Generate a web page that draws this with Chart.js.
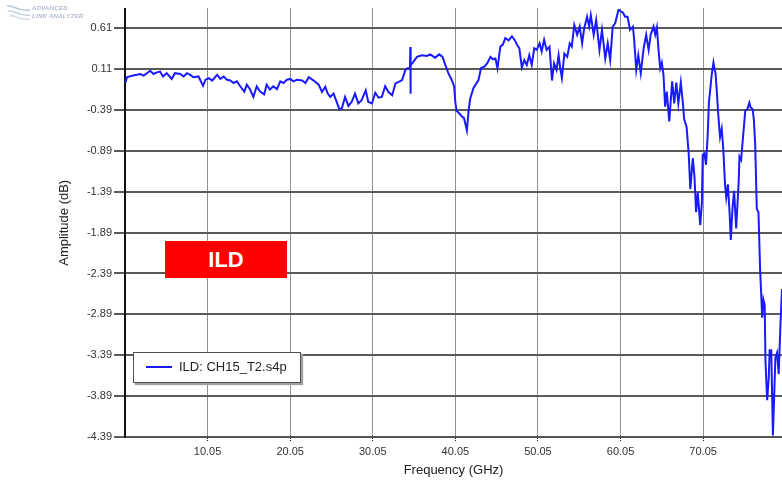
<!DOCTYPE html>
<html>
<head>
<meta charset="utf-8">
<script src="https://cdn.jsdelivr.net/npm/chart.js@4.4.1/dist/chart.umd.min.js"></script>
<style>
body { margin:0; background:#fff; }
#wrap { position:relative; width:782px; height:483px; overflow:hidden; font-family:'Liberation Sans', Arial, sans-serif; }
#wrap canvas { position:absolute; left:0; top:0; }
.logo { position:absolute; left:6px; top:3px; }
.logo span { position:absolute; left:26px; font:italic bold 6px 'Liberation Sans', Arial, sans-serif; color:#aebacb; white-space:nowrap; letter-spacing:0.3px; }
.ild { position:absolute; left:165px; top:241px; width:122px; height:37px; background:#ff0000; color:#fff; font:bold 22px 'Liberation Sans', Arial, sans-serif; display:flex; align-items:center; justify-content:center; }
.legend { position:absolute; left:133px; top:352px; width:166px; height:29px; border:1.5px solid #505050; background:#fff; box-shadow:2px 2px 1px #a0a0a0; }
.legend i { position:absolute; left:12px; top:13px; width:26px; height:2px; background:#1a1aff; }
.legend b { position:absolute; left:45px; top:6px; font:normal 13px 'Liberation Sans', Arial, sans-serif; color:#222; white-space:nowrap; }
</style>
</head>
<body>
<div id="wrap">
  <canvas id="c" width="782" height="483"></canvas>
  <div class="logo">
    <svg width="26" height="18" viewBox="0 0 26 18">
      <path d="M1 3 C7 1 11 9 24 7" stroke="#b7c8da" stroke-width="1.6" fill="none"/>
      <path d="M2 8 C8 6 12 14 24 12" stroke="#c3d2e2" stroke-width="1.6" fill="none"/>
      <path d="M4 13 C9 11 13 18 24 16" stroke="#cfdbe8" stroke-width="1.4" fill="none"/>
    </svg>
    <span style="top:2px">ADVANCED</span>
    <span style="top:10px">LINK ANALYZER</span>
  </div>
  <div class="ild">ILD</div>
  <div class="legend"><i></i><b>ILD: CH15_T2.s4p</b></div>
</div>
<script>
const seriesName = 'ILD: CH15_T2.s4p';

const freq = [
	0.08, 0.29, 0.9, 1.5, 1.9, 2.3, 2.7, 3.1, 3.5, 3.9,
	4.3, 4.65, 5.1, 5.7, 6.1, 6.75, 7.15, 7.55, 7.95, 8.35,
	8.95, 9.5, 9.8, 10.2, 10.6, 11.2, 11.6, 12.0, 12.4, 12.8,
	13.2, 13.6, 14.0, 14.5, 14.8, 15.2, 15.6, 16.0, 16.4, 16.9,
	17.2, 17.6, 18.0, 18.45, 18.85, 19.25, 19.65, 20.05, 20.45, 20.85,
	21.5, 21.9, 22.3, 22.9, 23.5, 23.9, 24.3, 24.6, 24.9, 25.3,
	25.6, 26.0, 26.3, 26.7, 27.1, 27.5, 27.9, 28.3, 28.7, 29.2,
	29.5, 29.95, 30.35, 30.75, 31.15, 31.55, 31.95, 32.4, 32.8, 33.2,
	33.6, 34.0, 34.25, 34.55, 34.6, 34.62, 34.65, 34.9, 35.4, 36.0,
	36.6, 37.0, 37.6, 38.1, 38.5, 38.8, 39.2, 39.6, 39.9, 40.05,
	40.2, 40.5, 40.85, 41.1, 41.45, 41.65, 41.85, 42.25, 42.6, 42.85,
	43.15, 43.55, 43.9, 44.3, 44.6, 44.9, 45.15, 45.5, 45.8, 46.1,
	46.5, 46.9, 47.2, 47.5, 47.8, 48.1, 48.4, 48.7, 49.0, 49.3,
	49.6, 49.9, 50.25, 50.5, 50.8, 51.1, 51.45, 51.75, 52.0, 52.3,
	52.55, 52.75, 52.95, 53.25, 53.6, 53.9, 54.15, 54.45, 54.8, 55.1,
	55.4, 55.65, 56.0, 56.25, 56.45, 56.8, 57.1, 57.5, 57.8, 58.2,
	58.5, 58.8, 59.1, 59.4, 59.8, 60.1, 60.35, 60.6, 60.9, 61.2,
	61.55, 61.7, 61.95, 62.2, 62.5, 62.85, 63.15, 63.45, 63.7, 64.05,
	64.25, 64.45, 64.65, 64.85, 65.05, 65.25, 65.45, 65.65, 65.95, 66.3,
	66.55, 66.8, 67.05, 67.35, 67.6, 67.75, 67.9, 68.05, 68.3, 68.5,
	68.8, 69.0, 69.2, 69.4, 69.7, 69.9, 70.0, 70.2, 70.4, 70.6,
	70.75, 70.85, 71.1, 71.3, 71.45, 71.55, 71.7, 71.85, 72.0, 72.1,
	72.3, 72.5, 72.7, 72.85, 73.05, 73.25, 73.4, 73.6, 73.8, 74.05,
	74.35, 74.45, 74.65, 74.95, 75.15, 75.4, 75.65, 75.8, 76.05, 76.2,
	76.35, 76.55, 76.75, 76.95, 77.1, 77.2, 77.35, 77.5, 77.6, 77.8,
	78.0, 78.1, 78.3, 78.4, 78.5, 78.65, 78.8, 79.0, 79.2, 79.4,
	79.6
];

const ild = [
	-0.06, 0.01, 0.03, 0.04, 0.05, 0.03, 0.06, 0.09, 0.05, 0.07,
	0.08, 0.02, 0.06, -0.01, 0.06, 0.05, 0.02, 0.06, 0.04, 0.01,
	0.02, -0.095, -0.02, 0.0, -0.03, 0.04, -0.01, 0.02, -0.02, -0.03,
	-0.06, -0.04, -0.10, -0.165, -0.08, -0.14, -0.23, -0.10, -0.165, -0.20,
	-0.08, -0.14, -0.10, -0.135, -0.04, -0.06, -0.02, -0.01, -0.04, -0.02,
	-0.03, -0.06, 0.01, -0.03, -0.08, -0.17, -0.105, -0.19, -0.23, -0.19,
	-0.27, -0.38, -0.37, -0.23, -0.34, -0.29, -0.19, -0.31, -0.27, -0.15,
	-0.29, -0.31, -0.18, -0.24, -0.23, -0.10, -0.17, -0.21, -0.065, -0.045,
	-0.025, 0.10, 0.12, 0.12, 0.38, -0.19, 0.16, 0.19, 0.26, 0.28,
	0.27, 0.29, 0.25, 0.29, 0.26, 0.17, 0.06, -0.02, -0.10, -0.30,
	-0.40, -0.43, -0.47, -0.49, -0.64, -0.40, -0.25, -0.12, -0.065, -0.025,
	0.12, 0.14, 0.18, 0.26, 0.23, 0.24, 0.12, 0.385, 0.41, 0.49,
	0.46, 0.51, 0.47, 0.41, 0.365, 0.13, 0.22, 0.16, 0.28, 0.16,
	0.365, 0.345, 0.425, 0.325, 0.47, 0.345, 0.385, -0.03, 0.18, 0.10,
	0.28, 0.12, 0.0, 0.30, 0.26, 0.425, 0.385, 0.65, 0.53, 0.63,
	0.425, 0.61, 0.75, 0.63, 0.77, 0.53, 0.71, 0.345, 0.59, 0.24,
	0.425, 0.22, 0.63, 0.67, 0.835, 0.815, 0.80, 0.75, 0.75, 0.59,
	0.63, 0.47, 0.10, 0.28, 0.06, 0.365, 0.53, 0.345, 0.53, 0.63,
	0.53, 0.62, 0.345, 0.12, 0.19, 0.04, -0.35, -0.165, -0.53, -0.04,
	-0.31, -0.055, -0.31, -0.055, -0.31, -0.50, -0.55, -0.60, -0.92, -1.36,
	-0.98, -1.20, -1.64, -1.40, -1.80, -1.52, -0.94, -0.92, -1.06, -0.70,
	-0.30, -0.20, 0.05, 0.19, 0.10, 0.06, -0.15, -0.40, -0.60, -0.72,
	-0.62, -0.88, -1.30, -1.46, -1.30, -1.64, -1.98, -1.60, -1.38, -1.84,
	-1.28, -0.96, -1.0, -0.64, -0.40, -0.38, -0.30, -0.36, -0.38, -0.52,
	-0.80, -1.60, -1.64, -2.34, -2.69, -2.93, -2.71, -2.77, -3.46, -3.94,
	-3.66, -3.33, -3.33, -3.86, -4.37, -3.90, -3.42, -3.36, -3.62, -3.05,
	-2.58
];

const xTicks = [10.05, 20.05, 30.05, 40.05, 50.05, 60.05, 70.05];
const yTicks = [0.61, 0.11, -0.39, -0.89, -1.39, -1.89, -2.39, -2.89, -3.39, -3.89, -4.39];
const xRange = [0.05, 79.6];
const yRange = [-4.39, 0.85];

const tickFont = {family:"'Liberation Sans', Arial, sans-serif", size:11};
const titleFont = {family:"'Liberation Sans', Arial, sans-serif", size:13};

new Chart(document.getElementById('c'), {
	type: 'line',
	data: {
		datasets: [{
			label: seriesName,
			data: freq.map((f, i) => ({x:f, y:ild[i]})),
			borderColor: '#1a1aff',
			borderWidth: 2,
			pointRadius: 0,
			tension: 0,
			fill: false,
		}]
	},
	options: {
		responsive: false,
		animation: false,
		events: [],
		layout: { padding: {top:5, right:0, left:0, bottom:0} },
		plugins: {
			legend: { display: false },
			tooltip: { enabled: false },
		},
		scales: {
			x: {
				type: 'linear',
				min: xRange[0],
				max: xRange[1],
				afterBuildTicks: s => { s.ticks = xTicks.map(v => ({value:v})) },
				afterFit: s => { s.height = 46 },
				ticks: {
					autoSkip: false,
					maxRotation: 0,
					padding: 3,
					color: '#333',
					font: tickFont,
					callback: v => v.toFixed(2),
				},
				grid: { color: '#222', lineWidth: 1, tickLength: 5, tickBorderDash: [1, 1] },
				border: { color: '#555', width: 2, dash: [1, 1] },
				title: { display: true, text: 'Frequency (GHz)', color: '#222', font: titleFont, padding: {top:0, bottom:5} },
			},
			y: {
				min: yRange[0],
				max: yRange[1],
				afterBuildTicks: s => { s.ticks = yTicks.map(v => ({value:v})) },
				afterFit: s => { s.width = 125 },
				ticks: {
					autoSkip: false,
					padding: 2,
					color: '#333',
					font: tickFont,
					callback: v => v.toFixed(2),
				},
				grid: { color: '#5a5a5a', lineWidth: 2, tickLength: 11 },
				border: { color: '#111', width: 2 },
				title: { display: true, text: 'Amplitude (dB)', color: '#222', font: titleFont, padding: {top:57, bottom:0} },
			}
		}
	}
});
</script>
</body>
</html>
